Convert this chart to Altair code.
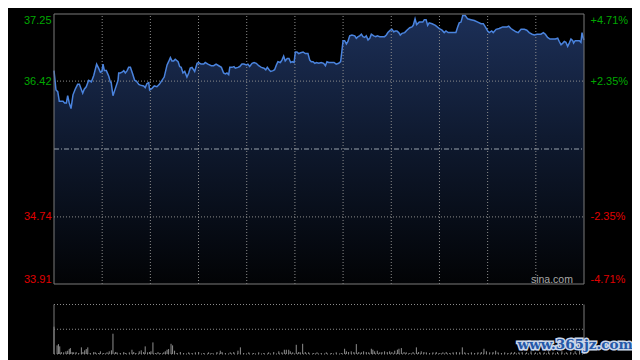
import altair as alt
import pandas as pd

# ---------------- data ----------------
minutes = [
    0, 0.9, 1.7, 2.4, 4.1, 4.8, 5.6, 6.2, 6.9, 7.7,
    8.6, 9.6, 10.7, 11.5, 13.0, 13.7, 14.6, 15.7, 16.9, 18.0,
    19.3, 20.2, 21.0, 21.7, 22.2, 22.8, 23.7, 24.8, 25.5, 25.9,
    26.7, 27.8, 29.0, 29.3, 30.0, 30.8, 31.6, 32.3, 33.1, 33.8,
    34.6, 35.6, 36.5, 37.3, 38.4, 39.1, 40.6, 41.3, 42.1, 42.9,
    43.3, 44.4, 45.4, 46.6, 47.7, 48.9, 49.9, 51.2, 51.9, 52.7,
    53.4, 54.2, 54.9, 56.2, 56.9, 57.6, 58.4, 59.2, 60.2, 61.0,
    61.7, 62.5, 63.7, 64.8, 65.5, 66.6, 67.8, 68.5, 69.7, 71.2,
    72.3, 73.4, 74.6, 75.8, 76.8, 77.6, 78.3, 79.1, 79.6, 80.6,
    81.5, 82.1, 83.3, 84.1, 85.1, 86.0, 87.1, 87.8, 88.6, 89.7,
    90.6, 91.6, 92.7, 93.9, 95.1, 95.9, 96.6, 97.4, 98.1, 99.2,
    99.9, 100.7, 101.4, 102.5, 103.2, 104.0, 104.7, 105.6, 106.4, 107.2,
    107.9, 108.7, 109.3, 110.0, 110.8, 111.7, 112.8, 113.8, 115.0, 115.8,
    116.5, 117.3, 118.1, 118.8, 119.9, 121.0, 122.1, 122.9, 123.6, 124.4,
    125.6, 126.8, 127.8, 128.9, 129.8, 130.4, 130.9, 131.6, 132.4, 133.1,
    133.9, 134.9, 136.2, 136.9, 137.7, 138.4, 139.2, 139.9, 140.7, 141.4,
    142.2, 143.0, 143.7, 144.8, 145.7, 146.4, 147.5, 148.5, 149.7, 150.5,
    151.2, 152.3, 153.1, 153.8, 154.6, 155.3, 156.1, 156.8, 157.6, 158.8,
    159.8, 161.1, 162.1, 162.7, 163.5, 164.2, 165.4, 167.0, 167.7, 168.5,
    169.2, 169.9, 171.2, 172.7, 174.5, 175.7, 176.7, 177.5, 178.5, 179.8,
    182.0, 182.8, 183.5, 184.3, 185.1, 186.2, 187.3, 188.8, 190.3, 191.9,
    193.4, 194.4, 195.3, 196.4, 197.1, 198.2, 198.9, 200.2, 201.6, 203.2,
    205.1, 205.9, 206.9, 208.0, 209.2, 210.2, 211.5, 213.0, 214.1, 215.2,
    216.5, 217.5, 218.7, 220.5, 221.6, 222.5, 223.5, 224.6, 225.8, 227.0,
    228.1, 228.8, 229.6, 230.4, 231.1, 231.8, 232.6, 233.3, 234.1, 234.9,
    235.3, 236.0, 236.8, 237.9, 238.6, 239.1, 239.7, 240,
]
prices = [
    36.55, 36.31, 36.29, 36.17, 36.17, 36.15, 36.15, 36.24, 36.15, 36.08,
    36.25, 36.32, 36.38, 36.38, 36.27, 36.32, 36.35, 36.43, 36.41, 36.49,
    36.63, 36.58, 36.53, 36.54, 36.63, 36.55, 36.55, 36.48, 36.41, 36.40,
    36.24, 36.33, 36.43, 36.52, 36.52, 36.53, 36.55, 36.52, 36.55, 36.59,
    36.59, 36.51, 36.43, 36.42, 36.38, 36.37, 36.36, 36.34, 36.39, 36.40,
    36.31, 36.33, 36.36, 36.35, 36.38, 36.43, 36.47, 36.62, 36.66, 36.71,
    36.67, 36.67, 36.69, 36.66, 36.60, 36.59, 36.52, 36.54, 36.47, 36.52,
    36.58, 36.59, 36.54, 36.64, 36.65, 36.63, 36.63, 36.65, 36.63, 36.61,
    36.61, 36.63, 36.61, 36.59, 36.52, 36.51, 36.52, 36.50, 36.59, 36.59,
    36.60, 36.58, 36.59, 36.60, 36.63, 36.63, 36.62, 36.63, 36.60, 36.64,
    36.65, 36.64, 36.61, 36.59, 36.58, 36.56, 36.59, 36.56, 36.54, 36.55,
    36.56, 36.62, 36.66, 36.65, 36.68, 36.73, 36.67, 36.70, 36.70, 36.65,
    36.66, 36.65, 36.78, 36.78, 36.76, 36.77, 36.78, 36.76, 36.76, 36.68,
    36.66, 36.66, 36.64, 36.65, 36.64, 36.65, 36.64, 36.61, 36.66, 36.65,
    36.65, 36.65, 36.63, 36.64, 36.66, 36.80, 36.92, 36.92, 36.88, 36.91,
    36.98, 36.99, 36.98, 36.95, 36.97, 36.98, 37.00, 36.97, 36.96, 36.98,
    36.93, 36.95, 37.00, 36.98, 36.97, 36.98, 36.97, 36.97, 36.97, 36.99,
    37.02, 37.05, 37.06, 37.03, 37.04, 37.04, 37.02, 36.99, 37.01, 37.02,
    37.05, 37.08, 37.09, 37.11, 37.19, 37.12, 37.15, 37.15, 37.18, 37.18,
    37.11, 37.14, 37.13, 37.11, 37.07, 37.05, 37.02, 37.04, 37.02, 37.02,
    37.02, 37.09, 37.14, 37.15, 37.23, 37.23, 37.19, 37.18, 37.17, 37.15,
    37.13, 37.13, 37.09, 37.04, 37.02, 37.04, 37.02, 37.06, 37.07, 37.09,
    37.09, 37.10, 37.07, 37.05, 37.03, 37.02, 37.06, 37.06, 37.05, 37.02,
    37.00, 36.99, 37.00, 37.00, 37.02, 37.00, 36.96, 36.94, 36.94, 36.94,
    36.95, 36.91, 36.87, 36.89, 36.91, 36.90, 36.85, 36.89, 36.94, 36.92,
    36.89, 36.92, 36.92, 36.92, 36.90, 37.02, 36.95, 36.93,
]

vol_minutes = [
    0, 1.4, 2.0, 2.6, 3.3, 4.4, 5.4, 6.2, 6.9, 7.4,
    8.2, 8.9, 10.0, 11.2, 12.4, 13.1, 13.9, 14.6, 15.3, 16.4,
    18.0, 18.7, 20.2, 21.0, 22.5, 24.0, 25.0, 26.0, 26.7, 27.8,
    28.5, 30.0, 31.6, 32.3, 34.1, 35.3, 36.1, 37.1, 38.6, 39.5,
    40.6, 41.3, 42.4, 43.3, 43.9, 44.8, 45.9, 47.1, 48.1, 49.7,
    50.4, 51.2, 51.9, 53.0, 53.7, 54.6, 55.7, 57.2, 58.7, 61.0,
    62.5, 64.0, 65.5, 67.8, 70.0, 71.5, 73.8, 75.3, 76.1, 77.6,
    79.8, 81.4, 83.3, 84.4, 85.9, 88.2, 90.4, 92.7, 95.0, 97.2,
    99.5, 101.8, 103.2, 104.3, 105.2, 106.3, 107.0, 108.1, 109.7, 110.8,
    111.5, 112.6, 113.8, 115.3, 117.6, 119.1, 121.0, 123.3, 125.6, 127.8,
    130.1, 131.6, 132.4, 133.4, 134.6, 135.8, 136.9, 138.0, 139.2, 140.2,
    141.4, 142.5, 143.7, 144.4, 145.2, 146.4, 147.5, 148.5, 149.7, 150.9,
    152.0, 153.0, 154.3, 155.5, 156.2, 157.3, 158.5, 159.5, 161.1, 162.6,
    164.1, 165.1, 166.3, 167.5, 168.6, 170.1, 171.6, 173.1, 174.7, 176.1,
    177.6, 179.2, 180.7, 182.2, 183.7, 184.9, 186.0, 187.5, 189.0, 190.5,
    192.0, 193.5, 194.7, 195.8, 197.3, 198.8, 200.0, 201.1, 202.6, 204.1,
    205.6, 207.1, 208.6, 210.5, 212.0, 214.0, 216.0, 218.0, 220.0, 222.0,
    224.0, 226.0, 228.0, 230.0, 232.0, 234.0, 236.0, 238.0, 240.0,
]
volumes = [
    2760, 870, 1000, 770, 200, 170, 270, 330, 500, 600,
    200, 170, 200, 100, 670, 200, 370, 500, 670, 100,
    200, 170, 100, 270, 100, 170, 270, 370, 2050, 200,
    170, 100, 200, 100, 170, 430, 200, 100, 270, 370,
    200, 770, 170, 200, 270, 1170, 100, 200, 100, 170,
    270, 430, 500, 1030, 870, 330, 100, 200, 100, 170,
    100, 170, 200, 100, 170, 100, 200, 330, 200, 100,
    170, 200, 330, 670, 100, 170, 100, 170, 100, 170,
    200, 270, 170, 430, 430, 430, 270, 170, 930, 200,
    170, 1030, 200, 170, 100, 170, 100, 170, 100, 170,
    100, 530, 270, 200, 270, 200, 1000, 200, 170, 270,
    200, 170, 530, 430, 270, 330, 170, 200, 270, 200,
    270, 200, 330, 430, 530, 600, 200, 170, 100, 200,
    670, 200, 270, 200, 170, 100, 170, 200, 100, 170,
    200, 100, 170, 200, 170, 670, 170, 100, 170, 100,
    170, 200, 530, 270, 170, 200, 330, 170, 100, 170,
    100, 170, 200, 170, 200, 170, 270, 170, 200, 170,
    270, 170, 200, 270, 170, 200, 270, 330, 400,
]

prev_close = 35.58
price_ticks = [37.25, 36.42, 34.74, 33.91]
pct_ticks = [4.71, 2.35, -2.35, -4.71]
dotted_prices = [36.42, 34.74]
border_prices = [37.25, 33.91]
grid_minutes = [240 * k / 11 for k in range(1, 11)]
border_minutes = [0, 240]
vol_grid = [5000, 2500, 0]

# ---------------- tables ----------------
price_df = pd.DataFrame({"t": minutes, "price": prices})
vol_df = pd.DataFrame({"t": vol_minutes, "vol": volumes})
pct_df = pd.DataFrame({"pct": pct_ticks})
hdot_df = pd.DataFrame({"price": dotted_prices})
hmid_df = pd.DataFrame({"price": [prev_close]})
hborder_df = pd.DataFrame({"price": border_prices})
vgrid_df = pd.DataFrame({"t": grid_minutes})
vborder_df = pd.DataFrame({"t": border_minutes})
volgrid_df = pd.DataFrame({"vol": vol_grid})
one_df = pd.DataFrame({"k": [0]})

# ---------------- scales ----------------
xs = alt.Scale(domain=[0, 240], nice=False, zero=False)


def ys_price():
    return alt.Scale(domain=[33.91, 37.25], range=[270, 0], nice=False, zero=False)


def ys_vol():
    return alt.Scale(domain=[0, 5000], range=[340, 290.5], nice=False, zero=False)


ys_pct = alt.Scale(domain=[-4.71, 4.71], range=[270, 0], nice=False, zero=False)

FONT = "Liberation Sans"
GREEN = "#00a800"
RED = "#e00000"
GRID = "#8c8c8c"
BORDER = "#7a7a7a"


def X(f):
    return alt.X(f, scale=xs, axis=None)


gradient = alt.Gradient(
    gradient="linear",
    stops=[
        alt.GradientStop(color="#1c2f57", offset=0),
        alt.GradientStop(color="#0f1a30", offset=0.45),
        alt.GradientStop(color="#020305", offset=1),
    ],
    x1=1, x2=1, y1=0, y2=1,
)

price_axis = alt.Axis(
    orient="left", values=price_ticks, format=".2f", title=None,
    domain=False, ticks=False, grid=False, labelFlush=True, labelOverlap=False,
    labelPadding=3, labelFont=FONT, labelFontSize=11,
    labelColor={"condition": {"test": f"datum.value > {prev_close}", "value": GREEN}, "value": RED},
)
pct_axis = alt.Axis(
    orient="right", values=pct_ticks, title=None,
    labelExpr="(datum.value > 0 ? '+' : '-') + format(abs(datum.value), '.2f') + '%'",
    domain=False, ticks=False, grid=False, labelFlush=True, labelOverlap=False,
    labelPadding=6, labelFont=FONT, labelFontSize=11,
    labelColor={"condition": {"test": "datum.value > 0", "value": GREEN}, "value": RED},
)

area = alt.Chart(price_df).mark_area(color=gradient).encode(
    x=X("t:Q"),
    y=alt.Y("price:Q", scale=ys_price(), axis=price_axis),
    y2=alt.datum(33.91),
)
pct_layer = alt.Chart(pct_df).mark_point(opacity=0).encode(
    x=alt.XDatum(0, axis=None),
    y=alt.Y("pct:Q", scale=ys_pct, axis=pct_axis),
)
hdot = alt.Chart(hdot_df).mark_rule(color=GRID, strokeDash=[1, 2], strokeWidth=1).encode(
    y=alt.Y("price:Q", scale=ys_price(), axis=None), x=alt.XDatum(0, axis=None), x2=alt.datum(240)
)
hmid = alt.Chart(hmid_df).mark_rule(color="#9aa3ad", strokeDash=[5, 2, 1, 2], strokeWidth=1).encode(
    y=alt.Y("price:Q", scale=ys_price(), axis=None), x=alt.XDatum(0, axis=None), x2=alt.datum(240)
)
vdot = alt.Chart(vgrid_df).mark_rule(color=GRID, strokeDash=[1, 2], strokeWidth=1).encode(
    x=X("t:Q"), y=alt.YDatum(33.91, scale=ys_price(), axis=None), y2=alt.datum(37.25)
)
line = alt.Chart(price_df).mark_line(color="#4a83dd", strokeWidth=1.5).encode(
    x=X("t:Q"), y=alt.Y("price:Q", scale=ys_price(), axis=None)
)
hborder = alt.Chart(hborder_df).mark_rule(color=BORDER, strokeWidth=1).encode(
    y=alt.Y("price:Q", scale=ys_price(), axis=None), x=alt.XDatum(0, axis=None), x2=alt.datum(240)
)
vborder = alt.Chart(vborder_df).mark_rule(color=BORDER, strokeWidth=1).encode(
    x=X("t:Q"), y=alt.YDatum(33.91, scale=ys_price(), axis=None), y2=alt.datum(37.25)
)
sina = alt.Chart(one_df).mark_text(
    text="sina.com", color="#a8a8a8", font=FONT, fontSize=10.5,
    align="right", baseline="alphabetic", dy=-1.5,
).encode(x=alt.XDatum(235, axis=None), y=alt.YDatum(33.91, scale=ys_price(), axis=None))

vbars = alt.Chart(vol_df).mark_rule(color="#8e8e8e", strokeWidth=1).encode(
    x=X("t:Q"), y=alt.Y("vol:Q", scale=ys_vol(), axis=None), y2=alt.datum(0)
)
vgridlines = alt.Chart(volgrid_df).mark_rule(color=GRID, strokeDash=[1, 2], strokeWidth=1).encode(
    y=alt.Y("vol:Q", scale=ys_vol(), axis=None), x=alt.XDatum(0, axis=None), x2=alt.datum(240)
)
vol_border = alt.Chart(vborder_df).mark_rule(color=BORDER, strokeWidth=1).encode(
    x=X("t:Q"), y=alt.YDatum(0, scale=ys_vol(), axis=None), y2=alt.datum(5000)
)
wm_outline = alt.Chart(one_df).mark_text(
    text="www.365jz.com", font="DejaVu Serif", fontWeight="bold", fontSize=13.5,
    color="#c9d6ea", stroke="#c9d6ea", strokeWidth=3, align="center", baseline="middle",
).encode(x=alt.XDatum(236, axis=None), y=alt.YDatum(880, scale=ys_vol(), axis=None))
wm_fill = alt.Chart(one_df).mark_text(
    text="www.365jz.com", font="DejaVu Serif", fontWeight="bold", fontSize=13.5,
    color="#2458a8", align="center", baseline="middle",
).encode(x=alt.XDatum(236, axis=None), y=alt.YDatum(880, scale=ys_vol(), axis=None))

chart = (
    alt.layer(
        area, pct_layer, hdot, hmid, vdot, line, hborder, vborder, sina,
        vgridlines, vbars, vol_border, wm_outline, wm_fill,
    )
    .resolve_scale(y="independent")
    .properties(
        width=530, height=340,
        autosize=alt.AutoSizeParams(type="none"),
        padding={"left": 46, "top": 6, "right": 48, "bottom": 6},
        background="#000000",
    )
    .configure_view(stroke=None)
)

chart.save("out.html", embed_options={"renderer": "svg", "actions": False})
